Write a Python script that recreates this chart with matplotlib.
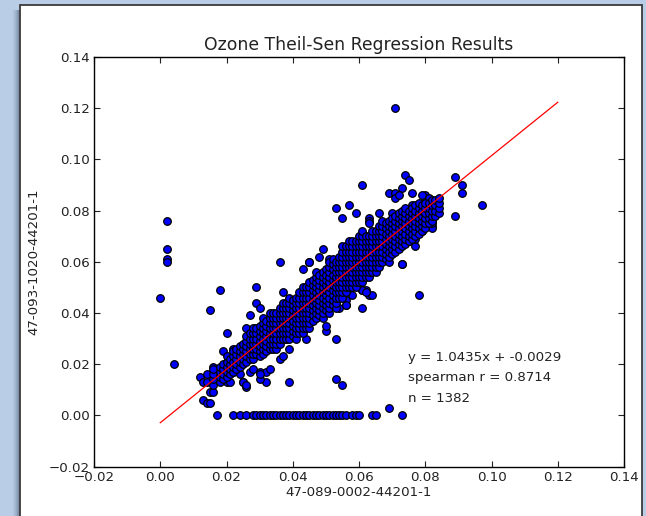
import matplotlib
matplotlib.use("Agg")
import matplotlib.pyplot as plt
from matplotlib.patches import Rectangle
from matplotlib.ticker import FuncFormatter

title = "Ozone Theil-Sen Regression Results"
x_label = "47-089-0002-44201-1"
y_label = "47-093-1020-44201-1"
slope = 1.0435
intercept = -0.0029
spearman_r = 0.8714
n_obs = 1382
tick_values = [-0.02, 0.00, 0.02, 0.04, 0.06, 0.08, 0.10, 0.12, 0.14]
fit_x = [0.0, 0.12]

# scattered points (thousandths of ppm)
outlier_x = [2, 2, 2, 2, 0, 18, 29, 15, 4, 20, 19, 29, 30, 27, 26,
             12, 13, 14, 16, 14, 15, 16, 13, 14, 15, 20, 21, 18, 22, 24, 25, 26, 27, 30, 32, 32, 30,
             71, 74, 75, 61, 73, 69, 71, 71, 72, 76, 80, 89, 91, 91, 97, 89, 57, 55, 59, 63, 66, 70,
             76, 81, 83, 83, 53, 63, 73, 49, 45, 43, 73, 75, 77, 82, 82, 80, 83, 82, 63, 61, 58, 69,
             78, 53, 50, 39, 53, 55, 69, 56, 56, 50, 44, 39, 36, 37, 33, 30, 28, 25, 26, 22, 22,
             48, 52, 45, 36, 76, 75, 74, 73, 61, 64, 62, 79, 81, 82, 83,
             51, 56, 37, 29, 54, 56, 61, 62, 61, 47, 44, 41, 38, 63, 70, 70, 75, 77, 82, 82, 79]
outlier_y = [76, 65, 61, 60, 46, 49, 50, 41, 20, 32, 25, 44, 42, 39, 34,
             15, 13, 13, 19, 16, 9, 9, 6, 5, 5, 13, 13, 17, 17, 16, 13, 11, 17, 17, 17, 13, 14,
             120, 94, 92, 90, 89, 87, 87, 85, 86, 87, 86, 93, 90, 87, 82, 78, 82, 77, 79, 77, 79, 79,
             82, 84, 81, 79, 81, 76, 79, 65, 60, 57, 59, 68, 66, 74, 76, 85, 79, 79, 47, 49, 47, 62,
             47, 30, 33, 13, 14, 12, 3, 43, 45, 35, 30, 26, 22, 23, 18, 16, 18, 13, 12, 26, 23,
             62, 59, 60, 60, 74, 72, 68, 59, 42, 47, 49, 86, 85, 83, 81,
             61, 66, 48, 34, 42, 43, 49, 48, 54, 38, 36, 32, 30, 75, 75, 64, 68, 69, 73, 75, 72]

# points where the second monitor read zero
zero_row_x = [17, 22, 24, 26, 28, 29, 30, 31, 32, 33, 34, 35, 36, 37, 38, 39, 40, 41, 42, 43,
              44, 45, 46, 47, 48, 49, 50, 51, 52, 53, 54, 55, 56, 58, 59, 60, 64, 65, 73]

# dense core of the cloud, column by column (thousandths)
core_columns = [
    (16, [12, 14, 16, 18]),
    (18, [13, 15, 17, 19]),
    (19, [14, 16, 18, 20]),
    (20, [15, 17, 19, 21, 23]),
    (21, [16, 18, 20, 22]),
    (22, [17, 19, 21, 23, 25]),
    (23, [18, 20, 22, 24, 26]),
    (24, [19, 21, 23, 25, 27]),
    (25, [20, 22, 24, 26, 28]),
    (26, [21, 23, 25, 27, 29, 31]),
    (27, [22, 24, 26, 28, 30, 32]),
    (28, [22, 24, 26, 28, 30, 32, 34]),
    (29, [24, 26, 28, 30, 32, 34]),
    (30, [23, 25, 27, 29, 31, 33, 35]),
    (31, [24, 26, 28, 30, 32, 34, 36, 38]),
    (32, [25, 27, 29, 31, 33, 35, 37]),
    (33, [26, 28, 30, 32, 34, 36, 38, 40]),
    (34, [26, 28, 30, 32, 34, 36, 38, 40]),
    (35, [26, 28, 30, 32, 34, 36, 38, 40]),
    (36, [28, 30, 32, 34, 36, 38, 40, 42]),
    (37, [30, 32, 34, 36, 38, 40, 42, 44]),
    (38, [30, 32, 34, 36, 38, 40, 42, 44]),
    (39, [30, 32, 34, 36, 38, 40, 42, 44, 46]),
    (40, [31, 33, 35, 37, 39, 41, 43, 45]),
    (41, [30, 32, 34, 36, 38, 40, 42, 44, 46]),
    (42, [32, 34, 36, 38, 40, 42, 44, 46, 48]),
    (43, [32, 34, 36, 38, 40, 42, 44, 46, 48, 50]),
    (44, [34, 36, 38, 40, 42, 44, 46, 48, 50]),
    (45, [34, 36, 38, 40, 42, 44, 46, 48, 50, 52]),
    (46, [37, 39, 41, 43, 45, 47, 49, 51, 53]),
    (47, [38, 40, 42, 44, 46, 48, 50, 52, 54, 56]),
    (48, [39, 41, 43, 45, 47, 49, 51, 53, 55]),
    (49, [38, 40, 42, 44, 46, 48, 50, 52, 54, 56]),
    (50, [41, 43, 45, 47, 49, 51, 53, 55, 57]),
    (51, [40, 42, 44, 46, 48, 50, 52, 54, 56, 58, 60]),
    (52, [43, 45, 47, 49, 51, 53, 55, 57, 59, 61]),
    (53, [42, 44, 46, 48, 50, 52, 54, 56, 58, 60]),
    (54, [46, 48, 50, 52, 54, 56, 58, 60, 62]),
    (55, [46, 48, 50, 52, 54, 56, 58, 60, 62, 64, 66]),
    (56, [48, 50, 52, 54, 56, 58, 60, 62, 64, 66]),
    (57, [50, 52, 54, 56, 58, 60, 62, 64, 66, 68]),
    (58, [50, 52, 54, 56, 58, 60, 62, 64, 66, 68]),
    (59, [50, 52, 54, 56, 58, 60, 62, 64, 66, 68]),
    (60, [52, 54, 56, 58, 60, 62, 64, 66, 68, 70]),
    (61, [52, 54, 56, 58, 60, 62, 64, 66, 68, 70, 72]),
    (62, [54, 56, 58, 60, 62, 64, 66, 68, 70]),
    (63, [54, 56, 58, 60, 62, 64, 66, 68, 70]),
    (64, [56, 58, 60, 62, 64, 66, 68, 70, 72]),
    (65, [56, 58, 60, 62, 64, 66, 68, 70, 72]),
    (66, [58, 60, 62, 64, 66, 68, 70, 72, 74]),
    (67, [60, 62, 64, 66, 68, 70, 72, 74, 76]),
    (68, [61, 63, 65, 67, 69, 71, 73, 75]),
    (69, [60, 62, 64, 66, 68, 70, 72, 74, 76]),
    (70, [63, 65, 67, 69, 71, 73, 75, 77]),
    (71, [64, 66, 68, 70, 72, 74, 76, 78]),
    (72, [65, 67, 69, 71, 73, 75, 77, 79]),
    (73, [66, 68, 70, 72, 74, 76, 78, 80]),
    (74, [67, 69, 71, 73, 75, 77, 79, 81]),
    (75, [68, 70, 72, 74, 76, 78, 80]),
    (76, [69, 71, 73, 75, 77, 79, 81]),
    (77, [70, 72, 74, 76, 78, 80, 82]),
    (78, [71, 73, 75, 77, 79, 81, 83]),
    (79, [72, 74, 76, 78, 80, 82]),
    (80, [73, 75, 77, 79, 81, 83]),
    (81, [75, 77, 79, 81, 83]),
    (82, [76, 78, 80, 82, 84]),
    (83, [78, 80, 82, 84]),
    (84, [79, 81, 83, 85]),
]

W, H = 646, 516
fig = plt.figure(figsize=(W / 100, H / 100), dpi=100)
fig.patch.set_facecolor("#b9cde6")

# window shadow and window frame
for i, a in enumerate([0.02, 0.03, 0.05, 0.07, 0.09, 0.12, 0.15]):
    fig.patches.append(Rectangle(((12 + i) / W, -0.02), (8 - i) / W, 1.0,
                                 transform=fig.transFigure, facecolor="#34435a",
                                 alpha=a, edgecolor="none", zorder=0))
fig.patches.append(Rectangle((19.5 / W, -0.02), (642 - 19.5) / W, (H - 4.5) / H + 0.02,
                             transform=fig.transFigure, facecolor="white",
                             edgecolor="#3a3a3a", linewidth=1.3, zorder=1))

ax = fig.add_axes([94 / W, 1 - 466.5 / H, (624 - 94) / W, (466.5 - 57) / H])
ax.set_zorder(2)
ax.set_facecolor("white")

fs = 9.6
xs = [v / 1000 for v in outlier_x]
ys = [v / 1000 for v in outlier_y]
for cx, col in core_columns:
    for cy in col:
        xs.append(cx / 1000)
        ys.append(cy / 1000)
for zx in zero_row_x:
    xs.append(zx / 1000)
    ys.append(0.0)

ax.scatter(xs, ys, s=30, c="#0000ff", edgecolors="black", linewidths=0.9, zorder=3)
fit_y = [slope * v + intercept for v in fit_x]
ax.plot(fit_x, fit_y, color="#ff0000", linewidth=0.9, zorder=4)

ax.set_xlim(-0.02, 0.14)
ax.set_ylim(-0.02, 0.14)
ax.set_xticks(tick_values)
ax.set_yticks(tick_values)
fmt = FuncFormatter(lambda v, p: ("%.2f" % v).replace("-", "\u2212"))
ax.xaxis.set_major_formatter(fmt)
ax.yaxis.set_major_formatter(fmt)
ax.tick_params(direction="in", length=4, width=0.8, top=True, right=True,
               labelsize=fs, colors="#222222", pad=3)
for s in ax.spines.values():
    s.set_linewidth(1.0)
    s.set_color("black")

ax.set_title(title, fontsize=12.4, color="#222222", pad=5)
ax.set_xlabel(x_label, fontsize=fs, color="#222222", labelpad=2)
ax.set_ylabel(y_label, fontsize=fs, color="#222222", labelpad=6)

ax.text(0.0747, 0.0227, "y = %.4fx + %.4f" % (slope, intercept), fontsize=fs,
        color="#222222", va="center", ha="left")
ax.text(0.0747, 0.0147, "spearman r = %.4f" % spearman_r, fontsize=fs,
        color="#222222", va="center", ha="left")
ax.text(0.0747, 0.0067, "n = %d" % n_obs, fontsize=fs,
        color="#222222", va="center", ha="left")

fig.savefig("out.png", dpi=100, facecolor=fig.get_facecolor())
